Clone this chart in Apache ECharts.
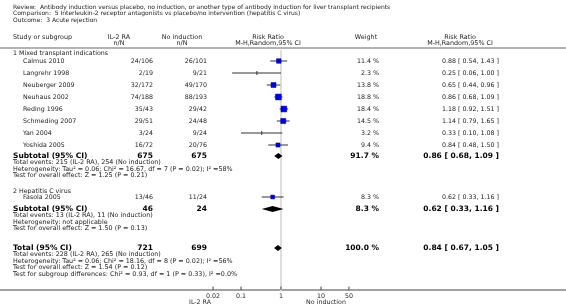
<!DOCTYPE html>
<html>
<head>
<meta charset="utf-8">
<script src="https://cdn.jsdelivr.net/npm/echarts@6/dist/echarts.min.js"></script>
<style>html,body{margin:0;padding:0;background:#fff}#main{width:566px;height:308px}</style>
</head>
<body>
<div id="main"></div>
<script>
var reviewTitle = "Review:  Antibody induction versus placebo, no induction, or another type of antibody induction for liver transplant recipients";
var comparisonTitle = "Comparison:  5 Interleukin-2 receptor antagonists vs placebo/no intervention (hepatitis C virus)";
var outcomeTitle = "Outcome:  3 Acute rejection";

var groupNames = ["1 Mixed transplant indications", "2 Hepatitis C virus"];
var studyNames = ["Calmus 2010","Langrehr 1998","Neuberger 2009","Neuhaus 2002","Reding 1996","Schmeding 2007","Yan 2004","Yoshida 2005","Fasola 2005"];
var studyGroup = [0,0,0,0,0,0,0,0,1];
var il2Events = [24,2,32,74,35,29,3,16,13];
var il2Total = [106,19,172,188,43,51,24,72,46];
var noEvents = [26,9,49,88,29,24,9,20,11];
var noTotal = [101,21,170,193,42,48,24,76,24];
var studyRR = [0.88,0.25,0.65,0.86,1.18,1.14,0.33,0.84,0.62];
var studyLow = [0.54,0.06,0.44,0.68,0.92,0.79,0.10,0.48,0.33];
var studyHigh = [1.43,1.00,0.96,1.09,1.51,1.65,1.08,1.50,1.16];
var studyWeight = [11.4,2.3,13.8,18.8,18.4,14.5,3.2,9.4,8.3];

var subIl2Total = [675,46];
var subNoTotal = [675,24];
var subIl2Events = [215,13];
var subNoEvents = [254,11];
var subRR = [0.86,0.62];
var subLow = [0.68,0.33];
var subHigh = [1.09,1.16];
var subWeight = [91.7,8.3];
var subHetero = ["Heterogeneity: Tau\u00b2 = 0.06; Chi\u00b2 = 16.67, df = 7 (P = 0.02); I\u00b2 =58%", "Heterogeneity: not applicable"];
var subEffect = ["Test for overall effect: Z = 1.25 (P = 0.21)", "Test for overall effect: Z = 1.50 (P = 0.13)"];

var totalIl2 = 721, totalNo = 699, totalIl2Events = 228, totalNoEvents = 265;
var totalRR = 0.84, totalLow = 0.67, totalHigh = 1.05, totalWeight = 100.0;
var totalHetero = "Heterogeneity: Tau\u00b2 = 0.06; Chi\u00b2 = 18.16, df = 8 (P = 0.02); I\u00b2 =56%";
var totalEffect = "Test for overall effect: Z = 1.54 (P = 0.12)";
var subgroupDiff = "Test for subgroup differences: Chi\u00b2 = 0.93, df = 1 (P = 0.33), I\u00b2 =0.0%";

var tickValues = [0.02, 0.1, 1, 10, 50];
var favoursLeft = "IL-2 RA", favoursRight = "No induction";

// ---- layout (pixels) ----
var FONT = "DejaVu Sans";
var fTitle = "6px " + FONT, fHead = "6.4px " + FONT, fRow = "6.3px " + FONT, fStat = "6.4px " + FONT, fBold = "bold 7.5px " + FONT, fTick = "6.3px " + FONT;
var colName = 13, colStudy = 23, colIl2 = 153, colNo = 207, colWeight = 379, colRR = 499;
var groupHeadY = [53, 191], groupStudyY = [61, 197], subY = [156, 209], subStatY = [162.5, 215.5];
var totalY = 248, totalStatY = 254.5, statStep = 6.6, studyStep = 12;
var axisY = 290;

function fmt2(v){ return v.toFixed(2); }
function ciText(r,l,h){ return fmt2(r) + " [ " + fmt2(l) + ", " + fmt2(h) + " ]"; }

var texts = [];
function T(x,y,s,font,align,color){ texts.push({x:x,y:y,s:s,font:font,align:align||"left",color:color||"#222"}); }

T(colName, 7, reviewTitle, fTitle);
T(colName, 13.5, comparisonTitle, fTitle);
T(colName, 20, outcomeTitle, fTitle);
T(colName, 37, "Study or subgroup", fHead);
T(119, 37, "IL-2 RA", fHead, "center");
T(119, 43, "n/N", fHead, "center");
T(182, 37, "No induction", fHead, "center");
T(182, 43, "n/N", fHead, "center");
T(268, 37, "Risk Ratio", fHead, "center");
T(268, 43, "M-H,Random,95% CI", fHead, "center");
T(366, 37, "Weight", fHead, "center");
T(460, 37, "Risk Ratio", fHead, "center");
T(460, 43, "M-H,Random,95% CI", fHead, "center");
T(200, axisY + 12.5, favoursLeft, fTick, "center");
T(326, axisY + 12.5, favoursRight, fTick, "center");

var studyY = [];
var countInGroup = [0,0];
for (var i = 0; i < studyNames.length; i++) {
  var g = studyGroup[i];
  var y = groupStudyY[g] + studyStep * countInGroup[g];
  countInGroup[g]++;
  studyY.push(y);
  T(colStudy, y, studyNames[i], fRow);
  T(colIl2, y, il2Events[i] + "/" + il2Total[i], fRow, "right");
  T(colNo, y, noEvents[i] + "/" + noTotal[i], fRow, "right");
  T(colWeight, y, studyWeight[i].toFixed(1) + " %", fRow, "right");
  T(colRR, y, ciText(studyRR[i], studyLow[i], studyHigh[i]), fRow, "right");
}
for (var g2 = 0; g2 < groupNames.length; g2++) {
  T(colName, groupHeadY[g2], groupNames[g2], fRow);
  T(colName, subY[g2], "Subtotal (95% CI)", fBold, "left", "#000");
  T(colIl2, subY[g2], String(subIl2Total[g2]), fBold, "right", "#000");
  T(colNo, subY[g2], String(subNoTotal[g2]), fBold, "right", "#000");
  T(colWeight, subY[g2], subWeight[g2].toFixed(1) + " %", fBold, "right", "#000");
  T(colRR, subY[g2], ciText(subRR[g2], subLow[g2], subHigh[g2]), fBold, "right", "#000");
  T(colName, subStatY[g2], "Total events: " + subIl2Events[g2] + " (IL-2 RA), " + subNoEvents[g2] + " (No induction)", fStat);
  T(colName, subStatY[g2] + statStep, subHetero[g2], fStat);
  T(colName, subStatY[g2] + statStep * 2, subEffect[g2], fStat);
}
T(colName, totalY, "Total (95% CI)", fBold, "left", "#000");
T(colIl2, totalY, String(totalIl2), fBold, "right", "#000");
T(colNo, totalY, String(totalNo), fBold, "right", "#000");
T(colWeight, totalY, totalWeight.toFixed(1) + " %", fBold, "right", "#000");
T(colRR, totalY, ciText(totalRR, totalLow, totalHigh), fBold, "right", "#000");
T(colName, totalStatY, "Total events: " + totalIl2Events + " (IL-2 RA), " + totalNoEvents + " (No induction)", fStat);
T(colName, totalStatY + statStep, totalHetero, fStat);
T(colName, totalStatY + statStep * 2, totalEffect, fStat);
T(colName, totalStatY + statStep * 3, subgroupDiff, fStat);

var studyData = studyNames.map(function(n,i){ return [studyRR[i], studyY[i], studyLow[i], studyHigh[i], studyWeight[i]]; });
var diamondData = subRR.map(function(r,i){ return [r, subY[i], subLow[i], subHigh[i]]; });
diamondData.push([totalRR, totalY, totalLow, totalHigh]);

var chart = echarts.init(document.getElementById("main"), null, {renderer: "canvas"});
chart.setOption({
  animation: false,
  grid: [
    {left: 0, right: 0, top: 0, bottom: 0},
    {left: 201, right: 205, top: 0, bottom: 0}
  ],
  xAxis: [
    {type: "value", min: 0, max: 566, gridIndex: 0, show: false},
    {type: "log", logBase: 10, min: 0.01, max: 100, gridIndex: 1, show: false}
  ],
  yAxis: [
    {type: "value", min: 0, max: 308, inverse: true, gridIndex: 0, show: false},
    {type: "value", min: 0, max: 308, inverse: true, gridIndex: 1, show: false}
  ],
  series: [
    { // header rule and bottom axis line
      type: "custom", xAxisIndex: 0, yAxisIndex: 0, silent: true,
      data: [[0, 48, 566, 1.6, 0], [0, axisY, 566, 1, 1]],
      renderItem: function(params, api){
        var a = api.coord([api.value(0), api.value(1)]);
        var b = api.coord([api.value(2), api.value(1)]);
        var isAxis = api.value(4) === 1;
        return {type: "line", shape: {x1: a[0], y1: a[1], x2: b[0], y2: b[1]},
          style: {stroke: isAxis ? "#444" : "#9a9a9a", lineWidth: api.value(3)}};
      }
    },
    { // null line at 1
      type: "custom", xAxisIndex: 1, yAxisIndex: 1, silent: true,
      data: [[1, 50, axisY + 2]],
      renderItem: function(params, api){
        var a = api.coord([api.value(0), api.value(1)]);
        var b = api.coord([api.value(0), api.value(2)]);
        return {type: "line", shape: {x1: a[0], y1: a[1], x2: b[0], y2: b[1]},
          style: {stroke: "#dedede", lineWidth: 2}};
      }
    },
    { // ticks + labels
      type: "custom", xAxisIndex: 1, yAxisIndex: 1, silent: true,
      data: tickValues.map(function(v){ return [v, axisY]; }),
      renderItem: function(params, api){
        var p = api.coord([api.value(0), api.value(1)]);
        return {type: "group", children: [
          {type: "line", shape: {x1: p[0], y1: p[1] - 3.5, x2: p[0], y2: p[1]}, style: {stroke: "#444", lineWidth: 1}},
          {type: "text", x: p[0], y: p[1] + 6, style: {text: String(tickValues[params.dataIndex]), font: fTick, align: "center", verticalAlign: "middle", fill: "#222"}}
        ]};
      }
    },
    { // study CIs and squares
      type: "custom", xAxisIndex: 1, yAxisIndex: 1, silent: true,
      data: studyData,
      renderItem: function(params, api){
        var c = api.coord([api.value(0), api.value(1)]);
        var l = api.coord([api.value(2), api.value(1)]);
        var h = api.coord([api.value(3), api.value(1)]);
        var s = 1.35 * Math.sqrt(api.value(4));
        var mark = s < 2.5
          ? {type: "line", shape: {x1: c[0], y1: c[1] - 2, x2: c[0], y2: c[1] + 2}, style: {stroke: "#333", lineWidth: 1}}
          : {type: "rect", shape: {x: c[0] - s / 2, y: c[1] - s / 2, width: s, height: s}, style: {fill: "#0000ee", stroke: "#00008a", lineWidth: 0.5}};
        return {type: "group", children: [
          {type: "line", shape: {x1: l[0], y1: l[1], x2: h[0], y2: h[1]}, style: {stroke: "#333", lineWidth: 1}},
          mark
        ]};
      }
    },
    { // pooled diamonds
      type: "custom", xAxisIndex: 1, yAxisIndex: 1, silent: true,
      data: diamondData,
      renderItem: function(params, api){
        var c = api.coord([api.value(0), api.value(1)]);
        var l = api.coord([api.value(2), api.value(1)]);
        var h = api.coord([api.value(3), api.value(1)]);
        var hh = 3;
        return {type: "polygon", shape: {points: [[l[0], c[1]], [c[0], c[1] - hh], [h[0], c[1]], [c[0], c[1] + hh]]},
          style: {fill: "#000"}};
      }
    },
    { // all table text
      type: "custom", xAxisIndex: 0, yAxisIndex: 0, silent: true,
      data: texts.map(function(t){ return [t.x, t.y]; }),
      renderItem: function(params, api){
        var t = texts[params.dataIndex];
        var p = api.coord([api.value(0), api.value(1)]);
        return {type: "text", x: p[0], y: p[1], style: {text: t.s, font: t.font, align: t.align, verticalAlign: "middle", fill: t.color}};
      }
    }
  ]
});
</script>
</body>
</html>
